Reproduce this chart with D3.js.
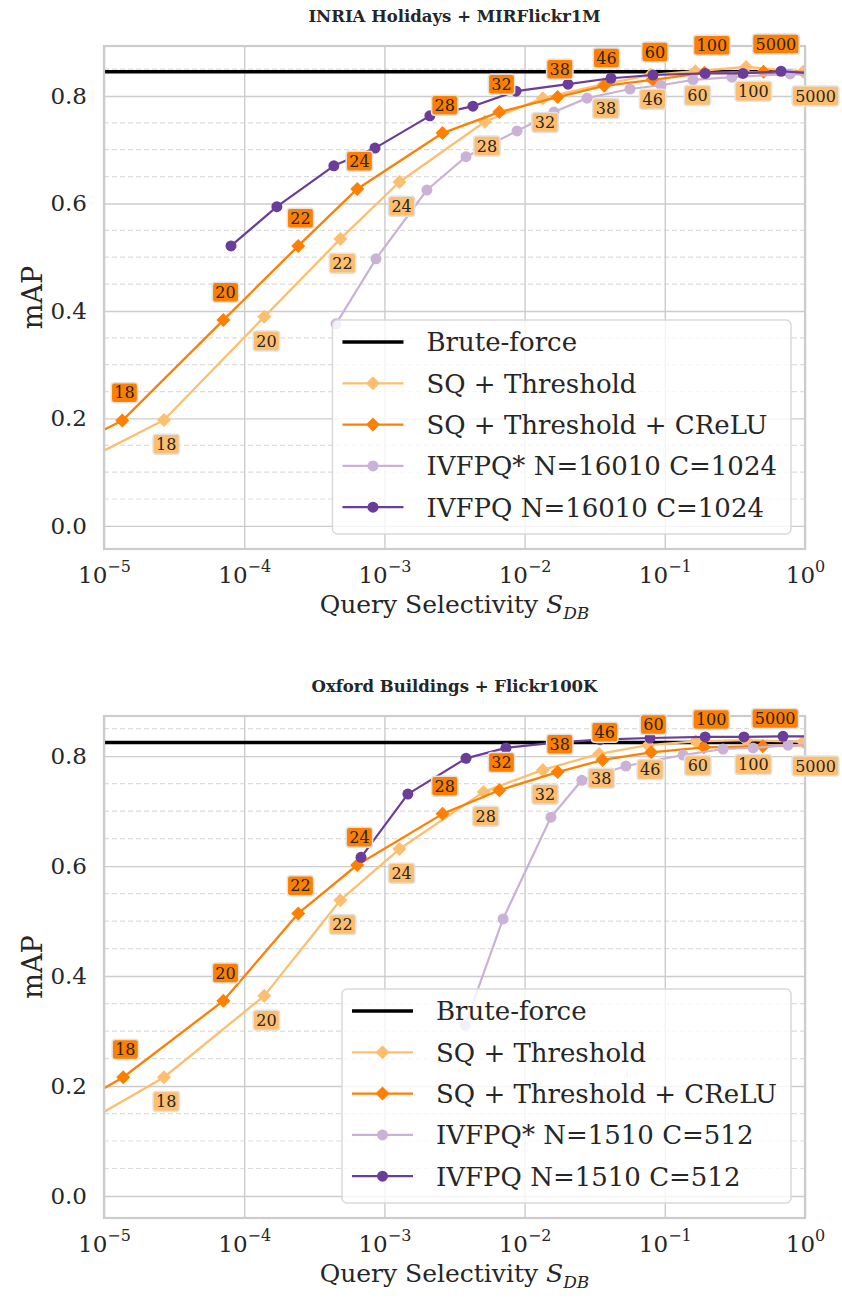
<!DOCTYPE html>
<html>
<head>
<meta charset="utf-8">
<script src="https://cdn.jsdelivr.net/npm/d3@7"></script>
<style>
  body { margin: 0; background: #fff; }
  svg { display: block; }
  text { font-family: "DejaVu Serif", serif; fill: #262626; }
</style>
</head>
<body>
<svg id="chart" width="842" height="1298"></svg>
<script>
// threshold labels shown next to the SQ markers
const thresholds = ['18', '20', '22', '24', '28', '32', '38', '46', '60', '100', '5000'];
const xTicks = [1e-5, 1e-4, 1e-3, 1e-2, 1e-1, 1];
const yTicks = [0, 0.2, 0.4, 0.6, 0.8];

// INRIA Holidays + MIRFlickr1M
const holBrute = 0.845;
const holSqX = [2.68e-5, 1.39e-4, 4.85e-4, 1.28e-3, 5.2e-3, 1.35e-2, 3.67e-2, 7.9e-2, 0.165, 0.38, 0.97];
const holSqY = [0.197, 0.389, 0.534, 0.640, 0.752, 0.796, 0.822, 0.839, 0.846, 0.854, 0.845];
const holSqEnds = [0.140, 0.845];
const holCreluX = [1.35e-5, 7.1e-5, 2.43e-4, 6.4e-4, 2.6e-3, 6.6e-3, 1.72e-2, 3.7e-2, 8.2e-2, 0.192, 0.506];
const holCreluY = [0.196, 0.383, 0.521, 0.627, 0.731, 0.770, 0.798, 0.819, 0.830, 0.843, 0.845];
const holCreluEnds = [0.179, 0.845];
const holIvfStarX = [4.52e-4, 8.71e-4, 2.01e-3, 3.82e-3, 8.83e-3, 1.62e-2, 2.79e-2, 5.65e-2, 9.4e-2, 0.159, 0.301, 0.782];
const holIvfStarY = [0.376, 0.497, 0.625, 0.687, 0.735, 0.770, 0.796, 0.813, 0.820, 0.830, 0.835, 0.841];
const holIvfStarEnd = 0.839;
const holIvfX = [8.05e-5, 1.71e-4, 4.36e-4, 8.57e-4, 2.11e-3, 4.28e-3, 8.69e-3, 2.04e-2, 4.13e-2, 8.24e-2, 0.194, 0.361, 0.675];
const holIvfY = [0.521, 0.594, 0.670, 0.703, 0.763, 0.781, 0.809, 0.822, 0.833, 0.839, 0.842, 0.842, 0.846];
const holIvfEnd = 0.843;

// Oxford Buildings + Flickr100K
const oxfBrute = 0.825;
const oxfSqX = [2.68e-5, 1.39e-4, 4.85e-4, 1.28e-3, 5.1e-3, 1.35e-2, 3.4e-2, 7.6e-2, 0.166, 0.38, 0.97];
const oxfSqY = [0.216, 0.364, 0.538, 0.631, 0.735, 0.775, 0.804, 0.820, 0.827, 0.829, 0.826];
const oxfSqEnds = [0.153, 0.826];
const oxfCreluX = [1.37e-5, 7.1e-5, 2.43e-4, 6.4e-4, 2.6e-3, 6.6e-3, 1.72e-2, 3.6e-2, 8.0e-2, 0.19, 0.5];
const oxfCreluY = [0.216, 0.355, 0.514, 0.602, 0.695, 0.738, 0.771, 0.793, 0.807, 0.816, 0.818];
const oxfCreluEnds = [0.196, 0.820];
const oxfIvfStarX = [3.76e-3, 7.02e-3, 1.54e-2, 2.56e-2, 5.28e-2, 0.135, 0.26, 0.426, 0.757];
const oxfIvfStarY = [0.311, 0.504, 0.689, 0.756, 0.782, 0.802, 0.813, 0.815, 0.820];
const oxfIvfStarEnd = 0.820;
const oxfIvfX = [6.81e-4, 1.47e-3, 3.82e-3, 7.36e-3, 1.57e-2, 3.45e-2, 7.84e-2, 0.194, 0.367, 0.697];
const oxfIvfY = [0.616, 0.731, 0.796, 0.815, 0.824, 0.830, 0.833, 0.835, 0.835, 0.836];
const oxfIvfEnd = 0.836;

const colors = { brute: '#000000', sq: '#fdbf6f', crelu: '#ff7f00', ivfStar: '#cab2d6', ivf: '#6a3d9a' };

const panels = [
  {
    id: 'hol', title: 'INRIA Holidays + MIRFlickr1M', top: 46, bottom: 549, yDomain: [-0.043, 0.893],
    brute: holBrute,
    sq: { xs: holSqX, ys: holSqY, ends: holSqEnds },
    crelu: { xs: holCreluX, ys: holCreluY, ends: holCreluEnds },
    ivfStar: { xs: holIvfStarX, ys: holIvfStarY, end: holIvfStarEnd },
    ivf: { xs: holIvfX, ys: holIvfY, end: holIvfEnd },
    ivfName: 'N=16010 C=1024'
  },
  {
    id: 'oxf', title: 'Oxford Buildings + Flickr100K', top: 716, bottom: 1218, yDomain: [-0.04, 0.873],
    brute: oxfBrute,
    sq: { xs: oxfSqX, ys: oxfSqY, ends: oxfSqEnds },
    crelu: { xs: oxfCreluX, ys: oxfCreluY, ends: oxfCreluEnds },
    ivfStar: { xs: oxfIvfStarX, ys: oxfIvfStarY, end: oxfIvfStarEnd },
    ivf: { xs: oxfIvfX, ys: oxfIvfY, end: oxfIvfEnd },
    ivfName: 'N=1510 C=512'
  }
];

const svg = d3.select('#chart');
const left = 104, right = 805;
const x = d3.scaleLog().domain([1e-5, 1]).range([left, right]);

const diamond = d3.symbol().type(d3.symbolSquare).size(98);

function drawPanel(p) {
  const y = d3.scaleLinear().domain(p.yDomain).range([p.bottom, p.top]);
  const h = p.bottom - p.top;
  const g = svg.append('g');

  svg.append('clipPath').attr('id', 'clip-' + p.id)
    .append('rect').attr('x', left).attr('y', p.top).attr('width', right - left).attr('height', h);

  // minor dashed grid
  const minor = d3.range(-0.05, 0.95, 0.05)
    .map(v => Math.round(v * 100) / 100)
    .filter(v => v >= p.yDomain[0] && v <= p.yDomain[1] && Math.round(v * 100) % 20 !== 0);
  g.append('g').selectAll('line').data(minor).join('line')
    .attr('x1', left).attr('x2', right)
    .attr('y1', d => y(d)).attr('y2', d => y(d))
    .attr('stroke', '#dcdcdc').attr('stroke-width', 1.2).attr('stroke-dasharray', '5,3');

  // major grid + tick labels
  const xAxis = g.append('g')
    .attr('transform', `translate(0,${p.bottom})`)
    .call(d3.axisBottom(x).tickValues(xTicks).tickSize(-h).tickPadding(0));
  xAxis.select('.domain').remove();
  xAxis.selectAll('.tick line').attr('stroke', '#cccccc').attr('stroke-width', 1.4);
  xAxis.selectAll('.tick text')
    .attr('y', 34).attr('dy', null).attr('font-size', 23).attr('fill', '#262626')
    .attr('font-family', '"DejaVu Serif", serif')
    .text(null)
    .call(t => {
      t.append('tspan').text('10');
      t.append('tspan').attr('dy', -11).attr('font-size', 16)
        .text(d => {
          const e = Math.round(Math.log10(d));
          return e < 0 ? '\u2212' + (-e) : String(e);
        });
    });

  const yAxis = g.append('g')
    .attr('transform', `translate(${left},0)`)
    .call(d3.axisLeft(y).tickValues(yTicks).tickSize(-(right - left)).tickPadding(17).tickFormat(d3.format('.1f')));
  yAxis.select('.domain').remove();
  yAxis.selectAll('.tick line').attr('stroke', '#cccccc').attr('stroke-width', 1.4);
  yAxis.selectAll('.tick text').attr('font-size', 23).attr('fill', '#262626').attr('font-family', '"DejaVu Serif", serif');

  const plot = g.append('g').attr('clip-path', `url(#clip-${p.id})`);

  // brute force reference
  plot.append('line')
    .attr('x1', left).attr('x2', right)
    .attr('y1', y(p.brute)).attr('y2', y(p.brute))
    .attr('stroke', colors.brute).attr('stroke-width', 3.5);

  const line = d3.line().x(d => x(d[0])).y(d => y(d[1]));

  function sqSeries(s, color) {
    const pts = s.xs.map((v, i) => [v, s.ys[i]]);
    const path = [[1e-5, s.ends[0]], ...pts, [1, s.ends[1]]];
    plot.append('path').attr('d', line(path))
      .attr('fill', 'none').attr('stroke', color).attr('stroke-width', 2.3)
      .attr('stroke-linejoin', 'round');
    plot.append('g').selectAll('path').data(pts).join('path')
      .attr('d', diamond)
      .attr('transform', d => `translate(${x(d[0])},${y(d[1])}) rotate(45)`)
      .attr('fill', color);
    return pts;
  }

  function ivfSeries(s, color) {
    const pts = s.xs.map((v, i) => [v, s.ys[i]]);
    const path = [...pts, [1, s.end]];
    plot.append('path').attr('d', line(path))
      .attr('fill', 'none').attr('stroke', color).attr('stroke-width', 2.2)
      .attr('stroke-linejoin', 'round');
    plot.append('g').selectAll('circle').data(pts).join('circle')
      .attr('cx', d => x(d[0])).attr('cy', d => y(d[1])).attr('r', 5.5)
      .attr('fill', color);
  }

  const sqPts = sqSeries(p.sq, colors.sq);
  const creluPts = sqSeries(p.crelu, colors.crelu);
  ivfSeries(p.ivfStar, colors.ivfStar);
  ivfSeries(p.ivf, colors.ivf);

  // spines
  g.append('rect')
    .attr('x', left).attr('y', p.top).attr('width', right - left).attr('height', h)
    .attr('fill', 'none').attr('stroke', '#cccccc').attr('stroke-width', 2.2);

  // threshold labels
  function labels(pts, color, offset) {
    const lg = g.append('g').selectAll('g').data(pts).join('g')
      .attr('transform', d => `translate(${x(d[0]) - 8},${y(d[1]) + offset})`);
    lg.append('text')
      .attr('dy', '0.36em').attr('font-size', 16).attr('fill', '#262626')
      .text((d, i) => thresholds[i]);
    lg.each(function () {
      const grp = d3.select(this);
      const b = grp.select('text').node().getBBox();
      grp.insert('rect', 'text')
        .attr('x', b.x - 3).attr('y', b.y - 0.5)
        .attr('width', b.width + 6).attr('height', b.height + 1)
        .attr('rx', 3)
        .attr('fill', color).attr('stroke', '#e2e2e2').attr('stroke-width', 1.5);
    });
  }
  labels(sqPts, colors.sq, 24);
  labels(creluPts, colors.crelu, -28);

  // titles and axis labels
  g.append('text')
    .attr('x', (left + right) / 2).attr('y', p.top - 24)
    .attr('text-anchor', 'middle').attr('font-size', 16.5).attr('font-weight', 'bold').attr('fill', '#111')
    .text(p.title);

  const xl = g.append('text')
    .attr('x', (left + right) / 2).attr('y', p.bottom + 64)
    .attr('text-anchor', 'middle').attr('font-size', 25);
  xl.append('tspan').text('Query Selectivity ');
  xl.append('tspan').attr('font-style', 'italic').text('S');
  xl.append('tspan').attr('font-style', 'italic').attr('font-size', 17).attr('dy', 6).text('DB');

  g.append('text')
    .attr('transform', `translate(42,${(p.top + p.bottom) / 2}) rotate(-90)`)
    .attr('text-anchor', 'middle').attr('font-size', 27)
    .text('mAP');

  // legend
  const entries = [
    { name: 'Brute-force', color: colors.brute, marker: null, width: 3.5 },
    { name: 'SQ + Threshold', color: colors.sq, marker: 'diamond', width: 2.3 },
    { name: 'SQ + Threshold + CReLU', color: colors.crelu, marker: 'diamond', width: 2.3 },
    { name: 'IVFPQ* ' + p.ivfName, color: colors.ivfStar, marker: 'circle', width: 2.2 },
    { name: 'IVFPQ ' + p.ivfName, color: colors.ivf, marker: 'circle', width: 2.2 }
  ];
  const rowH = 41.3;
  const boxBottom = p.bottom - 15;
  const boxTop = boxBottom - 214;
  const leg = g.append('g');
  const box = leg.append('rect');
  const rows = leg.selectAll('g').data(entries).join('g');
  const texts = rows.append('text')
    .attr('font-size', 26).attr('dy', '0.36em')
    .text(d => d.name);
  let maxW = 0;
  texts.each(function () { maxW = Math.max(maxW, this.getComputedTextLength()); });
  const boxRight = right - 14;
  const boxLeft = boxRight - (94 + maxW + 14);
  box.attr('x', boxLeft).attr('y', boxTop).attr('width', boxRight - boxLeft).attr('height', boxBottom - boxTop)
    .attr('rx', 5).attr('fill', 'rgba(255,255,255,0.8)').attr('stroke', '#d9d9d9').attr('stroke-width', 1.5);
  rows.attr('transform', (d, i) => `translate(${boxLeft},${boxTop + 22 + i * rowH})`);
  texts.attr('x', 94);
  rows.append('line')
    .attr('x1', 10).attr('x2', 71)
    .attr('stroke', d => d.color).attr('stroke-width', d => d.width);
  rows.filter(d => d.marker === 'diamond').append('path')
    .attr('d', diamond).attr('transform', 'translate(40.5,0) rotate(45)')
    .attr('fill', d => d.color);
  rows.filter(d => d.marker === 'circle').append('circle')
    .attr('cx', 40.5).attr('r', 5.5).attr('fill', d => d.color);
}

panels.forEach(drawPanel);
</script>
</body>
</html>
